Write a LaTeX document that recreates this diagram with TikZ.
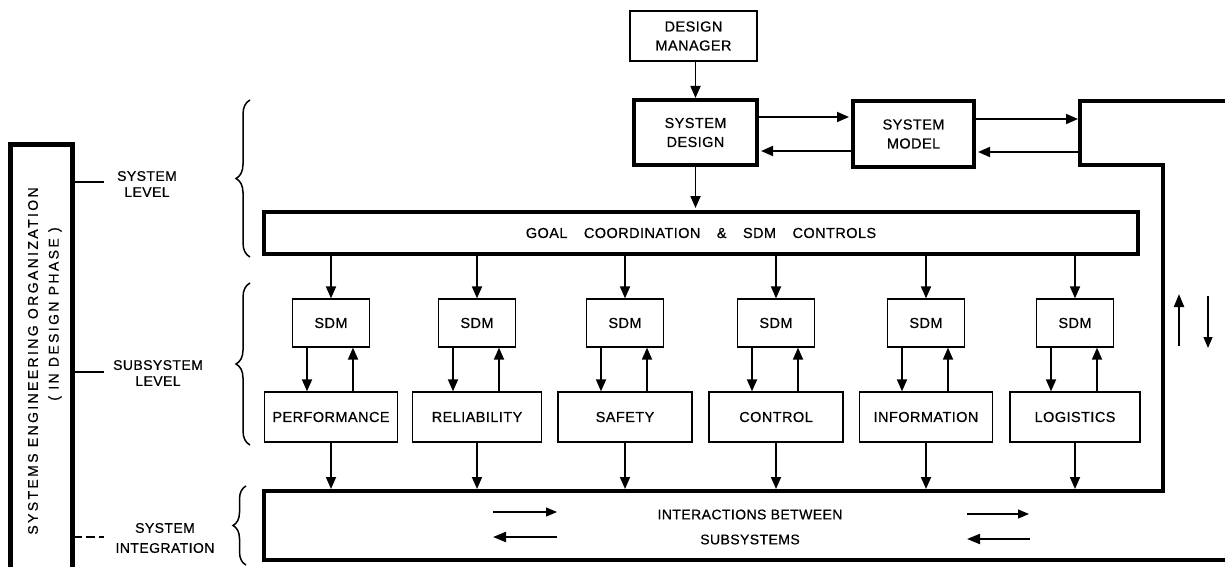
\documentclass[tikz,border=0pt]{standalone}
\usepackage{fontspec}
\setmainfont{Liberation Sans}
\newfontfamily\lbl{Liberation Sans}[LetterSpace=3, FakeBold=0.6]
\newfontfamily\lblwide{Liberation Sans}[LetterSpace=17, FakeBold=0.6]
\usetikzlibrary{arrows.meta,decorations.pathreplacing}
\tikzset{
  txt/.style={font=\lbl\fontsize{14.5}{19}\selectfont, align=center},
  thinbox/.style={draw, line width=1.3pt, inner sep=0pt, txt},
  thickbox/.style={draw, line width=4pt, inner sep=0pt, txt},
  arr/.style={line width=1.8pt, -{Triangle[length=12pt,width=10pt]}},
  thinarr/.style={line width=1.1pt, -{Triangle[length=11pt,width=9pt]}},
  boldarr/.style={line width=2pt, -{Triangle[length=13pt,width=10pt]}},
  brc/.style={decorate, decoration={brace, amplitude=14pt}, line width=1.5pt},
  outline/.style={line width=4pt, line join=miter},
  tick/.style={line width=1.5pt},
}
\begin{document}
\begin{tikzpicture}[x=1pt,y=-1pt]
\useasboundingbox (0,0) rectangle (1225,567);
\clip (0,0) rectangle (1225,567);

% top chain
\node[thinbox, minimum width=127pt, minimum height=50pt] (dm) at (693.5,36) {DESIGN\\MANAGER};
\node[thickbox, minimum width=123pt, minimum height=65pt] (sd) at (695.5,132.5) {SYSTEM\\DESIGN};
\node[thickbox, minimum width=121pt, minimum height=66pt] (sm) at (913.5,134) {SYSTEM\\MODEL};
\node[thickbox, minimum width=874pt, minimum height=42pt] (goal) at (701,233)
  {GOAL\hspace{12pt} COORDINATION\hspace{12pt} \&\hspace{12pt} SDM\hspace{12pt} CONTROLS};

% right block and integration box outline
\coordinate (rbtl) at (1230,101);
\coordinate (rbl) at (1080,101);
\coordinate (rbb) at (1080,165);
\coordinate (rbc) at (1163,165);
\coordinate (intr) at (1163,491);
\coordinate (inttop) at (264,491);
\coordinate (intbl) at (264,560);
\coordinate (intbr) at (1230,560);
\draw[outline] (rbtl) -- (rbl) -- (rbb) -- (rbc) -- (intr) -- (inttop) -- (intbl) -- (intbr);

\draw[arr] (dm.south -| sd.north) -- (sd.north);
\draw[arr, shorten >=2pt] (sd.south) -- (sd.south |- goal.north);
\draw[arr, shorten >=2pt] (sd.east |- 0,117) -- (sm.west |- 0,117);
\draw[arr, shorten >=2pt] (sm.west |- 0,151) -- (sd.east |- 0,151);
\draw[arr, shorten >=2pt] (sm.east |- 0,119) -- (rbl |- 0,119);
\draw[arr, shorten >=2pt] (rbl |- 0,152) -- (sm.east |- 0,152);

% subsystems
\foreach \x/\n/\t/\w in {331/1/PERFORMANCE/133, 477/2/RELIABILITY/129, 625/3/SAFETY/134,
  776/4/CONTROL/134, 926/5/INFORMATION/133, 1075/6/LOGISTICS/130} {
  \node[thinbox, minimum width=77pt, minimum height=48pt] (sdm\n) at (\x,323) {SDM};
  \node[thinbox, minimum width=\w pt, minimum height=50pt] (sub\n) at (\x,417) {\t};
  \draw[arr] (sdm\n.north |- goal.south) -- (sdm\n.north);
  \draw[arr] ([xshift=-24pt]sdm\n.south) -- ([xshift=-24pt]sdm\n.south |- sub\n.north);
  \draw[arr] ([xshift=22pt]sdm\n.south |- sub\n.north) -- ([xshift=22pt]sdm\n.south);
  \draw[arr, shorten >=2pt] (sub\n.south) -- (sub\n.south |- inttop);
}

% up / down arrows at right
\coordinate (ua1) at (1179,346); \coordinate (ua2) at (1179,294);
\coordinate (da1) at (1208,296); \coordinate (da2) at (1208,348);
\draw[line width=2.2pt, -{Triangle[length=13pt,width=10pt]}] (ua1) -- (ua2);
\draw[thinarr] (da1) -- (da2);

% integration box contents
\node[txt, font=\lbl\fontsize{14}{25}\selectfont] (inttxt) at (750,527) {INTERACTIONS BETWEEN\\SUBSYSTEMS};
\coordinate (la1) at (493,512); \coordinate (la2) at (557,512);
\coordinate (lb1) at (557,537); \coordinate (lb2) at (493,537);
\coordinate (ra1) at (967,514); \coordinate (ra2) at (1029,514);
\coordinate (rb1) at (1030,539); \coordinate (rb2) at (967,539);
\draw[thinarr] (la1) -- (la2);
\draw[boldarr] (lb1) -- (lb2);
\draw[thinarr] (ra1) -- (ra2);
\draw[boldarr] (rb1) -- (rb2);

% left organization box
\coordinate (lb_bl) at (10,575); \coordinate (lb_tl) at (10,144.5);
\coordinate (lb_tr) at (72.5,144.5); \coordinate (lb_br) at (72.5,575);
\draw[line width=5pt, line join=miter] (lb_bl) -- (lb_tl) -- (lb_tr) -- (lb_br);
\node[rotate=90, font=\lblwide\fontsize{14}{16}\selectfont, inner sep=0pt] (org1) at (33,361) {SYSTEMS ENGINEERING ORGANIZATION};
\node[rotate=90, font=\lblwide\fontsize{14}{16}\selectfont, inner sep=0pt] (org2) at (55,314) {( IN DESIGN PHASE )};

% level labels
\node[txt, font=\lbl\fontsize{14}{16}\selectfont] (lv1) at (147,184) {SYSTEM\\LEVEL};
\node[txt, font=\lbl\fontsize{14}{16}\selectfont] (lv2) at (158,373) {SUBSYSTEM\\LEVEL};
\node[txt, font=\lbl\fontsize{14}{20}\selectfont] (lv3) at (165,538) {SYSTEM\\INTEGRATION};
\draw[tick] (lb_tr |- 0,182) -- (104,182);
\draw[tick] (lb_tr |- 0,372) -- (104,372);
\draw[tick, dash pattern=on 9pt off 4pt] (lb_tr |- 0,537) -- (104,537);

% braces
\coordinate (b1a) at (250,257); \coordinate (b1b) at (250,100);
\coordinate (b2a) at (250,445); \coordinate (b2b) at (250,283);
\coordinate (b3a) at (246,565); \coordinate (b3b) at (246,486);
\draw[brc] (b1a) -- (b1b);
\draw[brc] (b2a) -- (b2b);
\draw[brc, decoration={brace, amplitude=13pt}] (b3a) -- (b3b);
\end{tikzpicture}
\end{document}
